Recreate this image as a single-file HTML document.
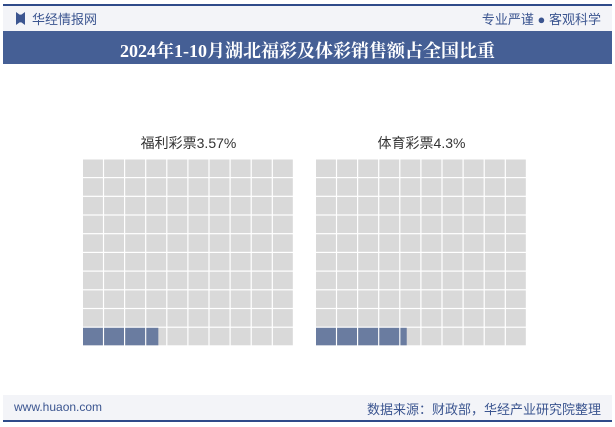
<!DOCTYPE html>
<html><head><meta charset="utf-8"><style>
body{margin:0;width:615px;height:427px;background:#fff;position:relative;overflow:hidden;font-family:"Liberation Sans","Noto Sans CJK SC",sans-serif}
.abs{position:absolute}
</style></head><body>
<div class="abs" style="left:3px;top:5px;width:609px;height:26px;background:#f3f4f8"></div>
<div class="abs" style="left:3px;top:4px;width:609px;height:2px;background:#2f4b8a"></div>
<div class="abs" style="left:16px;top:12px;width:9px;height:13px;background:#3b5590;clip-path:polygon(0 0,40% 20%,60% 20%,100% 0,100% 100%,60% 80%,40% 80%,0 100%)"></div>
<div class="abs" style="left:32px;top:9px;font-size:13px;color:#3b5590">华经情报网</div>
<div class="abs" style="right:14px;top:9px;font-size:13px;color:#3b5590">专业严谨 ● 客观科学</div>
<div class="abs" style="left:3px;top:31px;width:609px;height:33px;background:#455f95"></div>
<div class="abs" style="left:3px;top:37px;width:609px;text-align:center;font-family:'Liberation Serif','Noto Serif CJK SC',serif;font-weight:bold;font-size:18px;color:#fff">2024年1-10月湖北福彩及体彩销售额占全国比重</div>
<svg class="abs" style="left:0;top:0" width="615" height="427" id="chart"></svg>
<div class="abs" style="left:3px;top:395px;width:609px;height:26px;background:#f3f4f8"></div>
<div class="abs" style="left:3px;top:420px;width:609px;height:2px;background:#2f4b8a"></div>
<div class="abs" style="left:14px;top:400px;font-size:12px;color:#3b5590">www.huaon.com</div>
<div class="abs" style="right:14px;top:399px;font-size:13px;color:#3b5590">数据来源：财政部，华经产业研究院整理</div>
<script>
const categories=["福利彩票","体育彩票"];
const values=[3.57,4.3];
const labels=["3.57%","4.3%"];
const svg=document.getElementById('chart');
const NS="http://www.w3.org/2000/svg";
const origins=[83,316], top0=159.5, gw=211, gh=187;
const cw=gw/10, ch=gh/10;
function mk(t,a){const e=document.createElementNS(NS,t);for(const k in a)e.setAttribute(k,a[k]);svg.appendChild(e);return e;}
categories.forEach((c,i)=>{
  const x0=origins[i];
  const t=mk('text',{x:x0+gw/2,y:148,'text-anchor':'middle','font-size':'14','fill':'#333','font-family':'"Liberation Sans","Noto Sans CJK SC",sans-serif'});
  t.textContent=c+labels[i];
  
  
  for(let r=0;r<10;r++)for(let k=0;k<10;k++){
    const cell=mk('rect',{x:x0+k*cw,y:top0+r*ch,width:cw-1.2,height:ch-1.2,fill:'#d9d9d9'});
    
    
  }
  let v=values[i], idx=0;
  while(v>0){
    const row=9-Math.floor(idx/10), col=idx%10;
    const f=Math.min(1,v);
    const w=f>=1?cw-1.2:f*cw;
    const fc=mk('rect',{x:x0+col*cw,y:top0+row*ch,width:w,height:ch-1.2,fill:'#6a7ca0'});
    
    
    v-=1;idx++;
  }
});
</script>
</body></html>
